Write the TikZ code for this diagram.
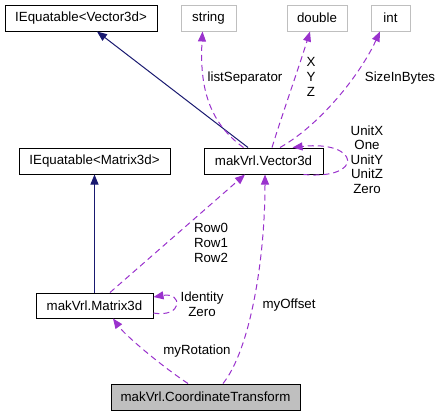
\documentclass[tikz,border=0pt]{standalone}
\usepackage{fontspec}
\setmainfont{Liberation Sans}
\usetikzlibrary{arrows.meta,calc}
\definecolor{dpurple}{HTML}{9A32CD}
\definecolor{dnavy}{HTML}{191970}
\definecolor{dgray}{HTML}{BFBFBF}
\begin{document}
\begin{tikzpicture}[x=1pt,y=-1pt,
  font=\fontsize{13.3}{14.6}\selectfont,
  box/.style={draw=black, line width=1pt, inner sep=0pt, minimum height=26pt, fill=white},
  gbox/.style={box, draw=dgray},
  inh/.style={draw=dnavy, line width=1pt, -{Triangle[length=10pt,width=8pt,fill=dnavy]}},
  use/.style={draw=dpurple, line width=1pt, dash pattern=on 6pt off 4pt, -{Triangle[length=10pt,width=8pt,fill=dpurple]}},
  lbl/.style={align=center, inner sep=0pt}]
\useasboundingbox (0,0) rectangle (441,416);
% nodes
\node[box, minimum width=152pt] (ieqv) at (81,18) {IEquatable<Vector3d>};
\node[gbox, minimum width=55pt] (str) at (208.5,18) {string};
\node[gbox, minimum width=60pt] (dbl) at (317,18) {double};
\node[gbox, minimum width=39pt] (int) at (390.5,18) {int};
\node[box, minimum width=151pt] (ieqm) at (94.5,161) {IEquatable<Matrix3d>};
\node[box, minimum width=119pt] (vec) at (263.5,161) {makVrl.Vector3d};
\node[box, minimum width=117pt, minimum height=25pt] (mat) at (94.5,305.5) {makVrl.Matrix3d};
\node[box, minimum width=189pt, fill=dgray] (ct) at (205.5,397) {makVrl.CoordinateTransform};
% labels
\node[lbl] (l1) at (245,78) {listSeparator};
\node[lbl] (l2) at (311,77) {X\\Y\\Z};
\node[lbl] (l3) at (400,78) {SizeInBytes};
\node[lbl] (l4) at (367,159.5) {UnitX\\One\\UnitY\\UnitZ\\Zero};
\node[lbl] (l5) at (211,243) {Row0\\Row1\\Row2};
\node[lbl] (l6) at (202,304) {Identity\\Zero};
\node[lbl] (l7) at (289,305) {myOffset};
\node[lbl] (l8) at (197,351) {myRotation};
% inheritance
\draw[inh] ($(vec.north)+(-15.5,0)$) -- ($(ieqv.south)+(16,0)$);
\draw[inh] (mat.north) -- (ieqm.south);
% usage
\draw[use] ($(vec.north)+(-20,0)$) .. controls (205,120) and (200,80) .. ($(str.south)+(-6,0)$);
\draw[use] ($(vec.north)+(8.5,0)$) .. controls (282,115) and (298,70) .. ($(dbl.south)+(-7,0)$);
\draw[use] ($(vec.north)+(16.5,0)$) .. controls (320,125) and (360,75) .. ($(int.south)+(-10.5,0)$);
\draw[use] ($(vec.south east)+(-20,0)$) .. controls (365,180) and (360,140) .. ($(vec.north east)+(-31,0)$);
\draw[use] ($(mat.north)+(15.5,0)$) -- ($(vec.south)+(-18.5,0)$);
\draw[use] ($(ct.north)+(17.5,0)$) .. controls (250,350) and (265,260) .. ($(vec.south)+(1.5,0)$);
\draw[use] ($(mat.east)+(0,7.5)$) .. controls (183,318) and (183,292) .. ($(mat.east)+(0,-8.5)$);
\draw[use] ($(ct.north)+(-17.5,0)$) .. controls (160,365) and (125,335) .. ($(mat.south)+(18.5,0)$);
\end{tikzpicture}
\end{document}
